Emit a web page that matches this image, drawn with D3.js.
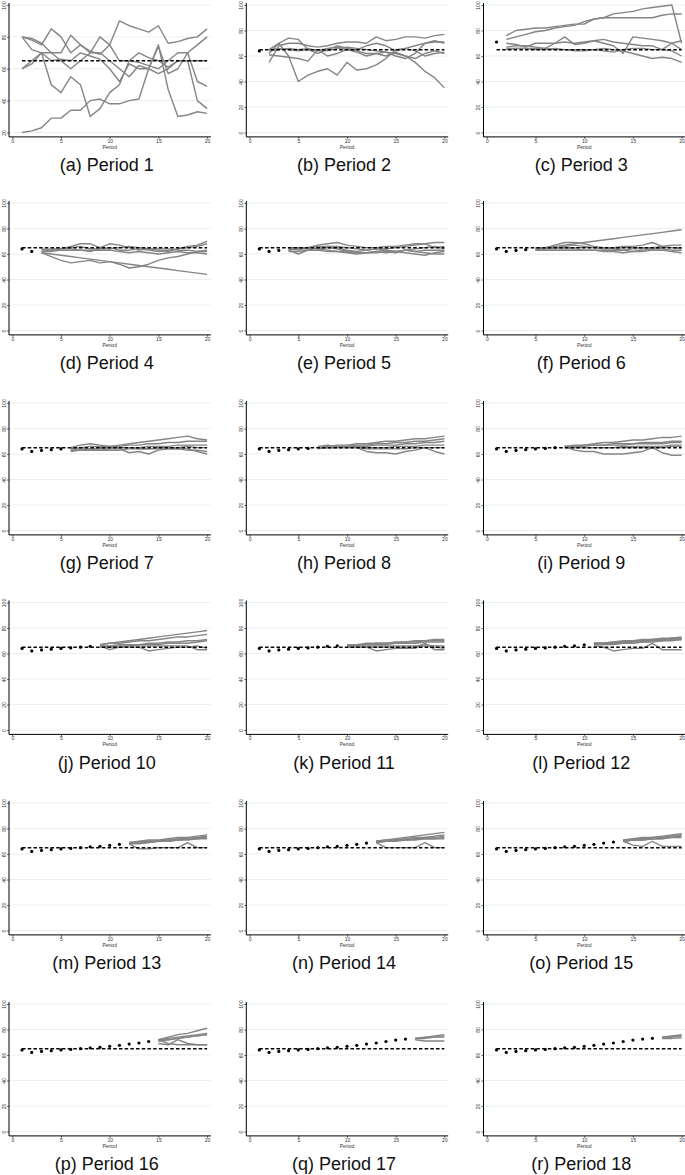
<!DOCTYPE html>
<html>
<head>
<meta charset="utf-8">
<script src="https://cdn.jsdelivr.net/npm/d3@7"></script>
<style>
  html, body { margin: 0; padding: 0; background: #fff; }
  svg { display: block; }
  .cap { font-family: "Liberation Sans", Arial, sans-serif; font-size: 18px; fill: #111; }
  .tk text { font-family: "Liberation Sans", Arial, sans-serif; font-size: 5px; fill: #333; }
  .xl { font-family: "Liberation Sans", Arial, sans-serif; font-size: 5px; fill: #333; }
</style>
</head>
<body>
<svg id="chart" width="685" height="1175"></svg>
<script>
// ---------------- data ----------------
const captions = ["(a) Period 1","(b) Period 2","(c) Period 3","(d) Period 4","(e) Period 5","(f) Period 6",
  "(g) Period 7","(h) Period 8","(i) Period 9","(j) Period 10","(k) Period 11","(l) Period 12",
  "(m) Period 13","(n) Period 14","(o) Period 15","(p) Period 16","(q) Period 17","(r) Period 18"];
const xTicks = [0, 5, 10, 15, 20];
const yTicksFirst = [20, 40, 60, 80, 100];
const yTicks = [0, 20, 40, 60, 80, 100];
const fundamentalValue = 65;
// realized prices, periods 1..17
const prices = [64, 62, 62.8, 63.4, 64, 64.4, 65, 65.7, 66, 66.8, 67.6, 68.6, 69.4, 70.6, 71.7, 72.5, 73.1];
// number of realized prices shown in each panel
const pricesShown = [0, 1, 1, 2, 3, 4, 5, 6, 7, 8, 9, 10, 11, 12, 13, 14, 16, 17];
// panel (c) shows a single observation
const pricesPanelC = [71];
// first period of the forecast lines in each panel
const forecastStart = [1, 2, 2, 3, 4, 5, 6, 7, 8, 9, 10, 11, 12, 13, 14, 15, 17, 18];

const fcP1 = [
  [80,78,75,85,80,70,75,71,69,75,90,87,85,83,87,76,77,79,80,85],
  [80,79,76,70,70,81,75,70,80,75,65,65,64,62,60,65,70,70,75,80],
  [60,63,70,50,45,55,50,30,35,45,50,65,70,67,65,61,65,65,65,65],
  [60,65,70,70,65,60,65,70,70,65,60,55,62,60,74,57,60,70,52,49],
  [20,21,23,29,29,34,34,40,41,38,38,40,41,60,75,47,30,31,33,32],
  [80,72,70,65,66,65,70,68,66,60,52,63,60,60,57,60,65,65,40,35]
];
const fcP2 = [
  [55,68,70,70,68,67,68,70,71,71,70,75,72,73,75,75,74,76,77],
  [65,70,74,73,65,62,65,68,66,65,68,70,68,64,66,68,70,71,71],
  [61,60,59,58,56,65,60,62,65,63,60,62,63,60,58,62,70,72,70],
  [62,70,60,40,45,48,50,45,55,49,50,53,58,65,66,64,60,62,63],
  [64,65,66,65,66,64,66,67,65,64,62,62,60,63,60,55,48,43,35],
  [65,66,65,64,65,65,64,66,67,66,65,64,63,62,60,58,62,64,62]
];
const fcP3 = [
  [76,80,81,82,82,83,84,85,85,89,90,93,94,95,97,98,99,100,70],
  [73,75,77,79,80,82,83,84,87,89,90,90,90,90,90,90,92,93,93],
  [67,68,68,67,66,70,75,69,70,72,70,68,62,75,74,73,72,70,65],
  [70,69,67,70,70,70,71,70,71,72,73,71,70,69,68,68,65,70,72],
  [66,66,66,66,66,65,65,65,65,65,66,65,64,62,60,58,59,58,55],
  [65,66,66,65,65,66,65,64,64,65,64,63,65,66,66,65,65,64,60]
];
const fcP4 = [
  [61,60,59,58,57,56,55,54,53,52,51,50,49,48,47,46,45,44],
  [61,58,55,53,54,55,53,54,52,49,50,52,55,57,58,60,62,63],
  [62,63,64,66,68,68,65,68,67,65,63,64,63,62,64,66,67,70],
  [63,64,64,65,66,64,64,65,63,63,64,63,62,63,64,65,66,68],
  [62,62,63,63,63,63,63,63,62,61,62,61,60,61,62,61,61,60],
  [64,63,64,64,63,62,64,64,65,66,65,64,64,64,63,63,62,62]
];
const fcP5 = [
  [64,63,65,67,68,69,67,66,65,65,66,66,67,68,68,69,69],
  [63,60,63,65,66,65,63,62,63,64,63,62,63,64,65,66,64],
  [64,64,64,64,65,64,62,61,61,62,63,62,63,62,61,60,60],
  [62,62,63,63,62,62,61,60,61,62,61,62,61,60,59,61,62],
  [65,65,65,66,66,66,65,64,63,64,64,65,66,67,68,65,66],
  [63,64,65,64,63,62,62,61,61,61,62,61,63,62,63,63,63]
];
const fcP6 = [
  [64,65,66,67,68,69,70,71,72,73,74,75,76,77,78,79],
  [64,65,67,69,69,68,66,65,65,66,66,67,69,66,67,67],
  [63,64,65,66,67,66,65,65,64,63,62,63,64,65,65,65],
  [64,64,64,64,64,63,63,62,62,61,62,62,63,63,62,61],
  [63,63,63,63,63,63,63,63,63,63,64,64,64,64,63,63],
  [65,65,65,65,65,65,65,64,64,65,65,65,65,66,65,64]
];
const fcP7 = [
  [65,67,68,67,66,67,68,69,70,71,72,73,74,72,71],
  [64,65,66,66,66,66,67,67,68,68,69,69,70,70,70],
  [63,63,64,64,65,65,65,65,66,66,66,67,67,67,67],
  [63,63,63,63,64,64,61,62,60,63,64,64,64,62,60],
  [64,64,64,65,65,65,65,64,64,65,65,65,66,65,65],
  [62,63,63,63,63,63,64,64,64,64,64,64,63,63,62]
];
const fcP8 = [
  [65,66,67,67,68,68,69,70,70,71,72,72,73,74],
  [65,65,66,66,67,67,68,68,69,69,70,70,71,72],
  [65,65,65,66,66,66,67,67,67,68,68,69,69,70],
  [66,67,66,66,65,62,61,61,60,62,63,65,62,60],
  [64,65,65,65,65,65,65,65,66,66,66,67,67,67],
  [65,65,65,65,65,64,64,64,64,64,65,65,65,65]
];
const fcP9 = [
  [66,67,67,68,69,69,70,71,71,72,73,73,74],
  [66,66,67,67,67,68,68,68,69,69,69,70,70],
  [66,66,66,67,67,67,67,68,68,68,68,69,69],
  [66,63,62,62,60,60,60,61,62,65,61,59,59],
  [65,65,65,65,65,65,66,66,66,66,66,67,67],
  [65,65,65,65,65,65,65,65,65,65,65,66,66]
];
const fcP10 = [
  [67,68,69,70,71,72,73,74,75,76,77,78],
  [67,68,68,69,70,70,71,72,73,73,74,75],
  [66,66,67,67,67,68,68,69,69,70,70,71],
  [66,65,66,66,67,67,67,68,68,68,69,70],
  [65,65,65,66,66,66,66,66,66,66,63,63],
  [66,63,65,65,65,62,63,64,65,65,66,64]
];
const fcP11 = [
  [67,67,68,68,68,69,69,70,70,71,71],
  [67,67,67,68,68,68,69,69,70,70,70],
  [66,66,67,67,67,68,68,68,69,69,69],
  [65,65,65,62,63,64,64,64,68,63,63],
  [65,65,65,65,65,65,65,65,66,65,64],
  [66,66,66,66,66,66,66,66,67,66,66]
];
const fcP12 = [
  [68,68,69,70,70,71,71,72,72,73],
  [68,68,68,69,70,70,71,71,72,72],
  [67,67,68,68,69,69,70,70,71,71],
  [66,65,62,63,64,64,68,63,63,63],
  [67,67,67,68,68,69,69,70,70,71],
  [68,68,69,69,70,70,71,71,72,72]
];
const fcP13 = [
  [69,70,71,71,72,73,73,74,75],
  [68,69,70,70,71,71,72,73,73],
  [68,69,69,70,70,71,71,72,72],
  [68,64,64,65,65,65,69,65,65],
  [69,69,70,70,71,72,72,73,74],
  [68,68,69,70,70,71,72,72,73]
];
const fcP14 = [
  [70,71,72,73,74,75,76,77],
  [70,71,71,72,73,73,74,75],
  [69,70,70,71,71,72,72,73],
  [69,65,65,65,65,69,65,65],
  [69,70,71,71,72,73,73,74],
  [70,70,71,71,72,72,72,72]
];
const fcP15 = [
  [71,72,73,73,74,75,76],
  [70,71,72,72,73,74,75],
  [70,71,71,72,72,73,74],
  [70,67,66,70,66,66,66],
  [71,71,72,73,73,74,75],
  [70,71,71,72,72,73,73]
];
const fcP16 = [
  [72,74,76,77,79,81],
  [72,73,74,75,76,77],
  [71,72,73,74,75,76],
  [69,68,72,69,68,68],
  [72,69,68,68,68,68],
  [71,72,73,74,75,76]
];
const fcP17 = [
  [73,74,75,76],
  [73,73.5,74,75],
  [72,71,71,71],
  [73,73,74,74]
];
const fcP18 = [
  [74,75,76],
  [73,74,75],
  [73,73,73.5],
  [74,74.5,75]
];
const forecasts = [fcP1,fcP2,fcP3,fcP4,fcP5,fcP6,fcP7,fcP8,fcP9,fcP10,fcP11,fcP12,fcP13,fcP14,fcP15,fcP16,fcP17,fcP18];

// ---------------- layout ----------------
const svg = d3.select("#chart");
const colX = [12.3, 249.6, 486.8];     // x pixel of period 0
const rowTop = [5, 203, 403, 602.5, 803, 1004]; // y pixel of value 100
const plotW = 194.8, plotH = 127.5;

forecasts.forEach((fc, p) => {
  const col = p % 3, row = Math.floor(p / 3);
  const g = svg.append("g").attr("transform", `translate(${colX[col]},${rowTop[row]})`);
  const x = d3.scaleLinear().domain([0, 20]).range([0, plotW]);
  const y = d3.scaleLinear().domain(p === 0 ? [20, 100] : [0, 100]).range([plotH, 0]);
  const ticks = p === 0 ? yTicksFirst : yTicks;
  const axisX = -3.3, rightX = plotW + 3.8, baseY = plotH + 4.4;

  // grid
  g.selectAll("line.grid").data(ticks).join("line")
    .attr("x1", axisX).attr("x2", rightX)
    .attr("y1", d => y(d)).attr("y2", d => y(d))
    .attr("stroke", "#e3ecee").attr("stroke-width", 0.8);

  // forecast lines
  const start = forecastStart[p];
  const line = d3.line().x((d, i) => x(start + i)).y(d => y(d));
  g.selectAll("path.fc").data(fc).join("path")
    .attr("d", line).attr("fill", "none")
    .attr("stroke", "#858585").attr("stroke-width", 1.4).attr("stroke-linejoin", "round");

  // fundamental value (dashed)
  const fv = d3.range(1, 21).map(t => ({ t, v: fundamentalValue }));
  g.append("path").datum(fv)
    .attr("d", d3.line().x(d => x(d.t)).y(d => y(d.v)))
    .attr("fill", "none").attr("stroke", "#000").attr("stroke-width", 1.5)
    .attr("stroke-dasharray", "3.5,2.2");

  // realized prices
  const pts = p === 2 ? pricesPanelC : prices.slice(0, pricesShown[p]);
  g.selectAll("circle").data(pts).join("circle")
    .attr("cx", (d, i) => x(i + 1)).attr("cy", d => y(d)).attr("r", 1.6).attr("fill", "#000");

  // y axis
  const ya = g.append("g").attr("class", "tk").attr("transform", `translate(${axisX},0)`)
    .call(d3.axisLeft(y).tickValues(ticks).tickSize(2).tickPadding(1.5).tickFormat(d3.format("d")));
  ya.select(".domain").remove();
  ya.selectAll(".tick line").attr("stroke", "#000").attr("stroke-width", 0.6);
  ya.selectAll(".tick text")
    .attr("text-anchor", "middle").attr("x", 0).attr("dy", null)
    .attr("transform", "translate(-5.2,0) rotate(-90)")
    .attr("dominant-baseline", "central");
  g.append("line").attr("x1", axisX).attr("x2", axisX).attr("y1", -2).attr("y2", baseY)
    .attr("stroke", "#000").attr("stroke-width", 1);

  // x axis
  const xa = g.append("g").attr("class", "tk").attr("transform", `translate(0,${baseY})`)
    .call(d3.axisBottom(x).tickValues(xTicks).tickSize(2).tickPadding(0.5));
  xa.select(".domain").remove();
  xa.selectAll(".tick line").attr("stroke", "#000").attr("stroke-width", 0.6);
  g.append("line").attr("x1", axisX).attr("x2", rightX).attr("y1", baseY).attr("y2", baseY)
    .attr("stroke", "#000").attr("stroke-width", 1);
  g.append("text").attr("class", "xl").attr("x", x(10)).attr("y", baseY + 12)
    .attr("text-anchor", "middle").text("Period");

  // caption
  g.append("text").attr("class", "cap").attr("x", x(10) - 3).attr("y", plotH + 38.5)
    .attr("text-anchor", "middle").text(captions[p]);
});
</script>
</body>
</html>
